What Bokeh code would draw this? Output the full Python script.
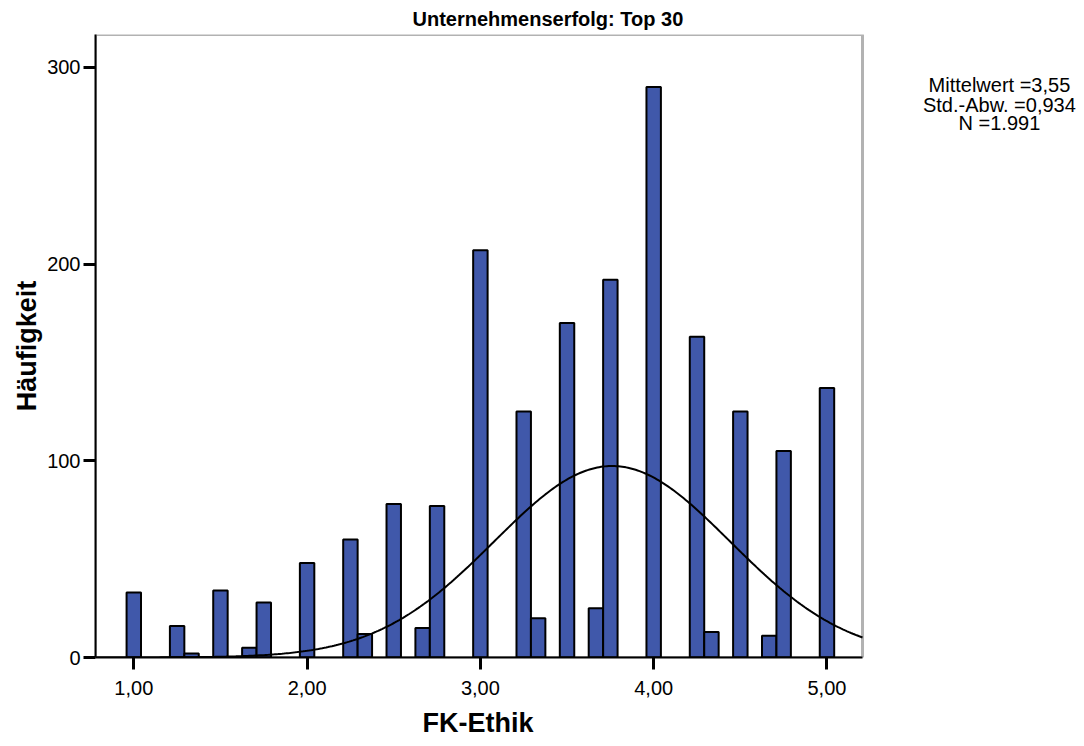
import numpy as np
from bokeh.plotting import figure
from bokeh.models import Range1d, FixedTicker, Label, Title, BoxAnnotation
from bokeh.embed import file_html
from bokeh.resources import INLINE

# ---- data ----
bin_centers = [1.0, 1.25, 1.3333, 1.5, 1.6667, 1.75, 2.0, 2.25, 2.3333, 2.5, 2.6667, 2.75,
               3.0, 3.25, 3.3333, 3.5, 3.6667, 3.75, 4.0, 4.25, 4.3333, 4.5, 4.6667, 4.75, 5.0]
counts = [33, 16, 2, 34, 5, 28, 48, 60, 12, 78, 15, 77,
          207, 125, 20, 170, 25, 192, 290, 163, 13, 125, 11, 105, 137]
bin_width = 1.0 / 12.0
x_ticks = [1, 2, 3, 4, 5]
x_tick_labels = ["1,00", "2,00", "3,00", "4,00", "5,00"]
y_ticks = [0, 100, 200, 300]
title_text = "Unternehmenserfolg: Top 30"
x_label = "FK-Ethik"
y_label = "Häufigkeit"
stats_lines = ["Mittelwert =3,55", "Std.-Abw. =0,934", "N =1.991"]
n_total = 1991
curve_mean = 3.76
curve_sd = 0.68

FONT = "Liberation Sans"
BAR_COLOR = "#4058aa"

# plot box (axis extent) and the wider drawing area that also holds the stats text
X0, X1 = 0.779, 5.205
Y0, Y1 = 0.0, 316.7
W, H = 1076, 746
LEFT, TOP, BOTTOM = 95, 34, 89
BOX_RIGHT_PX = 862
frame_w = W - LEFT
X_END = X0 + (X1 - X0) * frame_w / (BOX_RIGHT_PX - LEFT)

p = figure(width=W, height=H, output_backend="svg", toolbar_location=None,
           x_range=Range1d(X0, X_END), y_range=Range1d(Y0, Y1),
           min_border_left=LEFT, min_border_right=0, min_border_top=TOP,
           min_border_bottom=BOTTOM)

p.grid.visible = False
p.background_fill_color = "white"
p.border_fill_color = "white"
p.outline_line_color = None

p.vbar(x=bin_centers, top=counts, bottom=0, width=bin_width,
       fill_color=BAR_COLOR, line_color="black", line_width=2)

xs = np.linspace(X0, X1, 400)
ys = n_total * bin_width * np.exp(-0.5 * ((xs - curve_mean) / curve_sd) ** 2) / (curve_sd * np.sqrt(2 * np.pi))
p.line(xs, ys, line_color="black", line_width=2)

# box around the plot area
p.add_layout(BoxAnnotation(left=X0, right=X1, bottom=Y0, top=Y1, fill_alpha=0,
                           line_color="black", line_width=3))

for ax in (p.xaxis[0], p.yaxis[0]):
    ax.axis_line_color = "black"
    ax.axis_line_width = 2
    ax.major_tick_line_color = "black"
    ax.major_tick_line_width = 3
    ax.major_tick_out = 12
    ax.major_tick_in = 0
    ax.minor_tick_line_color = None
    ax.major_label_text_font = FONT
    ax.major_label_text_font_size = "20px"
    ax.major_label_text_color = "black"
    ax.axis_label_text_font = FONT
    ax.axis_label_text_font_size = "27px"
    ax.axis_label_text_font_style = "bold"
    ax.axis_label_text_color = "black"

p.xaxis.ticker = FixedTicker(ticks=x_ticks)
p.xaxis.bounds = (X0, X1)
p.xaxis.major_label_overrides = {t: l for t, l in zip(x_ticks, x_tick_labels)}
p.xaxis.major_label_standoff = 11

p.yaxis.ticker = FixedTicker(ticks=y_ticks)
p.yaxis.bounds = (Y0, Y1)
p.yaxis.axis_label = y_label
p.yaxis.major_label_standoff = 3
p.yaxis.axis_label_standoff = 2

# x axis title, placed below the tick labels
p.add_layout(Title(text=x_label, align="left", offset=327, standoff=17,
                   text_font=FONT, text_font_size="27px", text_font_style="bold",
                   text_color="black"), "below")

# chart title above the plot
p.add_layout(Title(text=title_text, align="left", offset=317, standoff=9,
                   text_font=FONT, text_font_size="20px", text_font_style="bold",
                   text_color="black"), "above")

# stats text to the right of the plot box
stat_x = 5.995
stat_y = [290.8, 281.1, 271.5]
for txt, yy in zip(stats_lines, stat_y):
    p.add_layout(Label(x=stat_x, y=yy, text=txt, text_align="center", text_baseline="middle",
                       text_font=FONT, text_font_size="20px", text_color="black"))

open("out.html", "w").write(file_html(p, INLINE))
